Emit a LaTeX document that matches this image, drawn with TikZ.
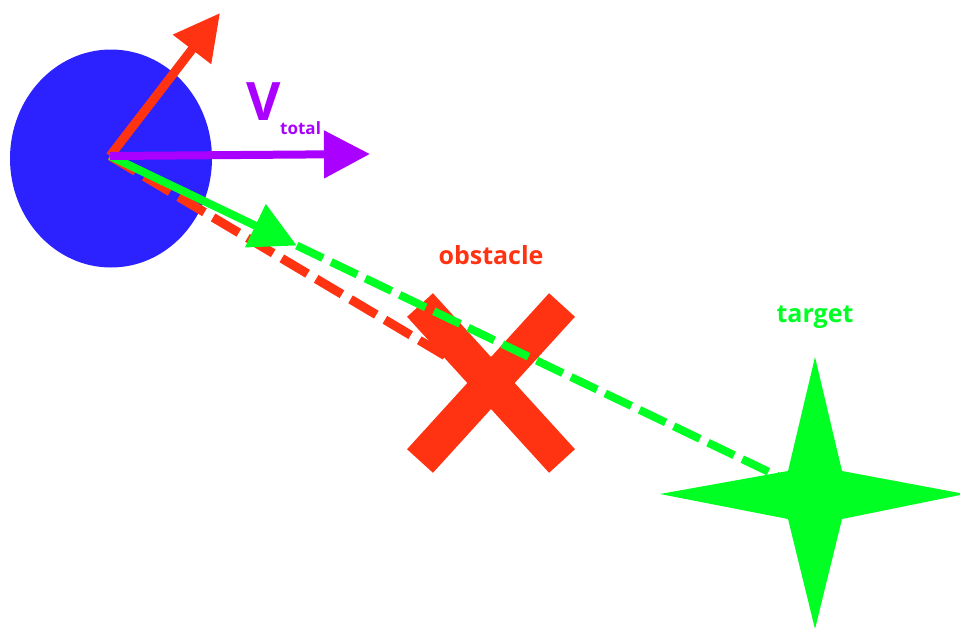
\documentclass[tikz,border=0pt]{standalone}
\usepackage{fontspec}
\setmainfont{Open Sans}
\usetikzlibrary{arrows.meta,calc,positioning}
\definecolor{botblue}{HTML}{2B22FF}
\definecolor{obstred}{HTML}{FF3311}
\definecolor{vpurple}{HTML}{AA00FF}
\definecolor{tgtgreen}{HTML}{00FF22}

\begin{document}
\begin{tikzpicture}[x=1pt,y=-1pt,
  vec/.style={line width=9pt, -{Triangle[length=46pt,width=46pt]}},
  dashvec/.style={line width=8pt, dash pattern=on 29pt off 9pt},
  lbl/.style={inner sep=0pt, font=\fontsize{25}{25}\selectfont\bfseries}]
\useasboundingbox (0,0) rectangle (960,627);
\coordinate (bot) at (110,156);
\coordinate (obst) at (491,383);
\coordinate (tgt) at (815,494);
\coordinate (rep) at (220,13);
\coordinate (vtot) at (370,154);
\coordinate (att) at ($(bot)!0.265!(tgt)$);

% robot body
\fill[botblue] (111,158.5) ellipse [x radius=101pt, y radius=109pt];

% path to obstacle and the obstacle
\draw[dashvec, obstred, line width=9pt, dash pattern=on 30pt off 10pt] (bot) -- (obst);
\draw[obstred, line width=35pt] ($(obst)+(-71,-78)$) -- ($(obst)+(71,78)$);
\draw[obstred, line width=35pt] ($(obst)+(71,-78)$) -- ($(obst)+(-71,78)$);
\node[lbl, obstred] (obstlabel) at (491,255) {obstacle};

% path to target and the target
\draw[dashvec, tgtgreen] (att) -- (tgt);
\fill[tgtgreen] (tgt) +(0,-137) -- +(27,-23) -- +(150,0) -- +(27,25)
  -- +(0,135) -- +(-27,25) -- +(-155,0) -- +(-27,-23) -- cycle;
\node[lbl, tgtgreen] (tgtlabel) at (815,317) {target};

% force vectors
\draw[vec, obstred] (bot) -- (rep);
\draw[vec, tgtgreen, line width=8pt] (bot) -- (att);
\draw[vec, vpurple, line width=8pt] (bot) -- (vtot);
\node[inner sep=0pt, anchor=base west, vpurple, font=\fontsize{53}{53}\selectfont\bfseries] (vlabel) at (246,120) {V};
\node[inner sep=0pt, anchor=base west, vpurple, font=\fontsize{17}{17}\selectfont\bfseries] (vsub) at (280,134) {total};
\end{tikzpicture}
\end{document}
